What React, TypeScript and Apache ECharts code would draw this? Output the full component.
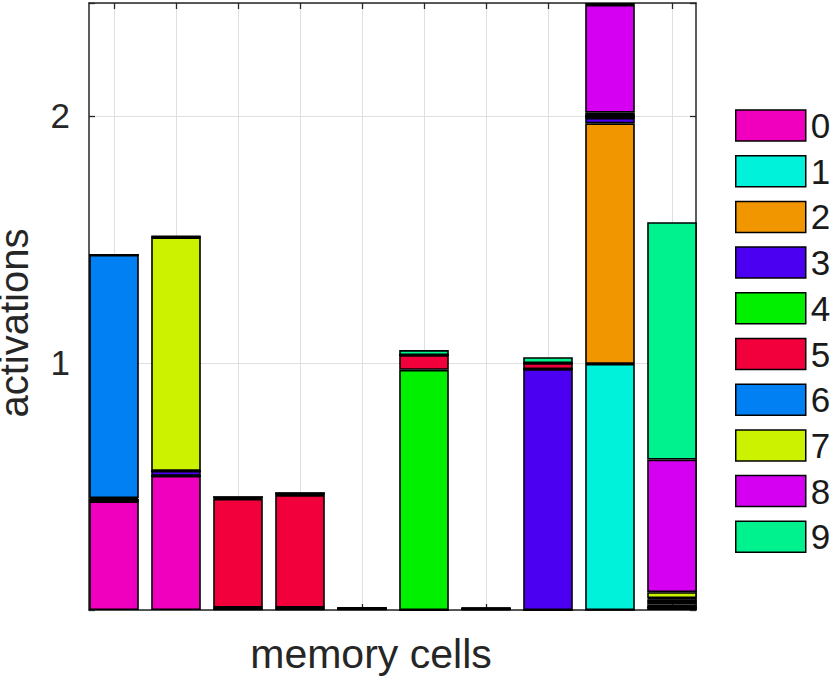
import React, { useEffect, useRef } from "react";
import * as echarts from "echarts";

const cells = ["1", "2", "3", "4", "5", "6", "7", "8", "9", "10"];
const digits = ["0", "1", "2", "3", "4", "5", "6", "7", "8", "9"];
const colors = [
  "#F000BE", "#00F2DA", "#F29600", "#4B00F2", "#00F000",
  "#F2003C", "#0080F2", "#CCF200", "#D500F2", "#00F28E",
];

// activation per digit (series) across the 10 memory cells
const d0 = [0.44, 0.543, 0.004, 0.004, 0.004, 0, 0.003, 0, 0, 0.01];
const d1 = [0, 0, 0, 0, 0, 0, 0, 0, 0.996, 0];
const d2 = [0, 0, 0, 0, 0, 0, 0, 0, 0.974, 0];
const d3 = [0.007, 0.02, 0.006, 0.006, 0, 0, 0, 0.975, 0.022, 0.012];
const d4 = [0, 0, 0, 0, 0, 0.972, 0, 0, 0, 0.01];
const d5 = [0.006, 0, 0.44, 0.455, 0.003, 0.06, 0.003, 0.024, 0.008, 0.012];
const d6 = [0.984, 0, 0.006, 0.007, 0, 0, 0, 0, 0, 0.004];
const d7 = [0, 0.945, 0, 0, 0, 0, 0, 0, 0.013, 0.024];
const d8 = [0, 0, 0, 0, 0, 0, 0, 0, 0.436, 0.537];
const d9 = [0, 0.008, 0, 0, 0.003, 0.02, 0.003, 0.024, 0.008, 0.961];
const values = [d0, d1, d2, d3, d4, d5, d6, d7, d8, d9];

const Y_MAX = 2.457;
const Y_TICKS = [1, 2];

const FONT = "Liberation Sans, Arial, Helvetica, sans-serif";
const AXIS_COLOR = "#262626";
const GRID_COLOR = "#dfdfdf";

export default function App() {
  const ref = useRef<HTMLDivElement>(null);

  useEffect(() => {
    if (!ref.current) return;
    const chart = echarts.init(ref.current, null, { renderer: "svg" });
    const axisLine = { show: true, onZero: false, lineStyle: { color: AXIS_COLOR, width: 1.5 } };
    const tick = { show: true, inside: true, length: 6, lineStyle: { color: AXIS_COLOR, width: 1.3 } };
    const option: any = {
      animation: false,
      textStyle: { fontFamily: FONT },
      grid: [
        { left: 114, right: 158, top: 3, bottom: 66, containLabel: false, outerBoundsMode: "none" },
        { left: 89, right: 134, top: 3, bottom: 66, containLabel: false, outerBoundsMode: "none" },
      ],
      legend: {
        orient: "vertical",
        left: 735,
        top: 108,
        padding: 0,
        itemWidth: 70,
        itemHeight: 31,
        itemGap: 10.7,
        icon: "rect",
        selectedMode: false,
        data: digits,
        itemStyle: { borderColor: "#000", borderWidth: 1.5 },
        textStyle: { fontSize: 35, color: "#1a1a1a", fontFamily: FONT, lineHeight: 31 },
      },
      xAxis: [
        {
          type: "category",
          gridIndex: 0,
          data: cells,
          boundaryGap: false,
          axisLine: { show: false },
          axisLabel: { show: false },
          axisTick: tick,
          splitLine: { show: true, lineStyle: { color: GRID_COLOR, width: 1 } },
        },
        {
          type: "category",
          gridIndex: 0,
          position: "top",
          data: cells,
          boundaryGap: false,
          axisLine: { show: false },
          axisLabel: { show: false },
          axisTick: tick,
          splitLine: { show: false },
        },
        {
          type: "value",
          gridIndex: 1,
          min: 0,
          max: 1,
          axisLine,
          axisTick: { show: false },
          axisLabel: { show: false },
          splitLine: { show: false },
          name: "memory cells",
          nameLocation: "middle",
          nameGap: 23,
          nameTextStyle: { fontSize: 41, color: AXIS_COLOR, fontFamily: FONT, padding: [0, 43, 0, 0] },
        },
        {
          type: "value",
          gridIndex: 1,
          position: "top",
          min: 0,
          max: 1,
          axisLine,
          axisTick: { show: false },
          axisLabel: { show: false },
          splitLine: { show: false },
        },
      ],
      yAxis: [
        { type: "value", gridIndex: 0, min: 0, max: Y_MAX, show: false, splitLine: { show: false } },
        {
          type: "value",
          gridIndex: 1,
          min: 0,
          max: Y_MAX,
          interval: 1,
          axisLine,
          axisTick: tick,
          axisLabel: {
            fontSize: 35,
            color: AXIS_COLOR,
            fontFamily: FONT,
            margin: 19,
            formatter: (v: number) => (Y_TICKS.includes(v) ? String(v) : ""),
          },
          splitLine: { show: true, lineStyle: { color: GRID_COLOR, width: 1 } },
          name: "activations",
          nameLocation: "middle",
          nameGap: 57,
          nameTextStyle: {
            fontSize: 40,
            lineHeight: 36,
            color: AXIS_COLOR,
            fontFamily: FONT,
            padding: [0, 33, 0, 0],
          },
        },
        {
          type: "value",
          gridIndex: 1,
          position: "right",
          min: 0,
          max: Y_MAX,
          interval: 1,
          axisLine,
          axisTick: tick,
          axisLabel: { show: false },
          splitLine: { show: false },
        },
      ],
      series: digits.map((d, i) => ({
        type: "bar",
        name: d,
        stack: "cells",
        xAxisIndex: 0,
        yAxisIndex: 0,
        data: values[i],
        barWidth: 49.6,
        clip: false,
        itemStyle: { color: colors[i], borderColor: "#000", borderWidth: 1.6 },
      })),
    };
    chart.setOption(option);
    return () => chart.dispose();
  }, []);

  return (
    <div
      ref={ref}
      style={{ position: "absolute", left: 0, top: 0, width: 830, height: 676 }}
    />
  );
}
